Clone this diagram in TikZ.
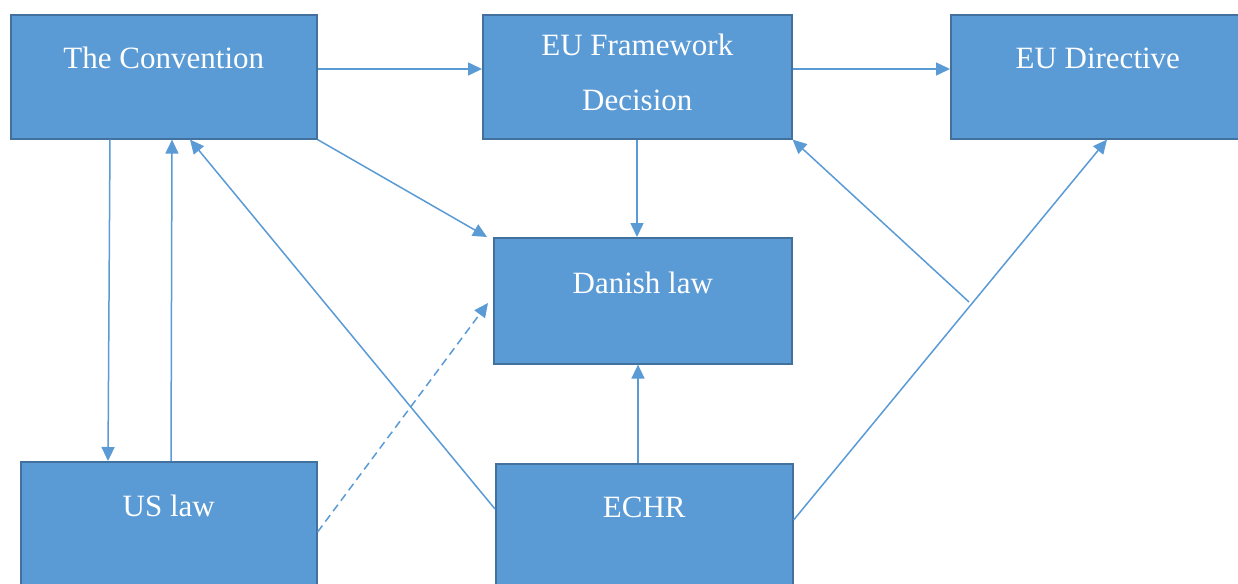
\documentclass[tikz,border=0pt]{standalone}
\usepackage{fontspec}
\setmainfont{Liberation Serif}
\usetikzlibrary{arrows.meta,calc}
\definecolor{boxfill}{HTML}{5B9BD5}
\definecolor{boxline}{HTML}{41719C}
\definecolor{conn}{HTML}{5B9BD5}
\tikzset{
  box/.style={draw=boxline, fill=boxfill, line width=1.6pt, rectangle, anchor=north west,
    inner sep=0pt, text=white, font=\fontsize{31}{31}\selectfont, text height=#1},
  box/.default=54pt,
  link/.style={draw=conn, line width=1.5pt, -{Triangle[length=14pt,width=13pt]}},
}
\begin{document}
\begin{tikzpicture}[x=1pt,y=-1pt]
\fill[white] (0,0) rectangle (1238,583);
\clip (0,0) rectangle (1238,583);
\node[box=54pt, text depth=70pt, minimum width=306pt] (conv) at (10,14) {The Convention};
\node[box=41pt, text depth=83pt, minimum width=309pt] (fd) at (482,14)
  {\vtop{\baselineskip=55pt \hbox{\makebox[0pt]{EU Framework}}\hbox{\makebox[0pt]{Decision}}}};
\node[box=54pt, text depth=70pt, minimum width=310pt] (dir) at (950,14) {\makebox[294pt]{EU Directive\hspace{16pt}}};
\node[box=56pt, text depth=70pt, minimum width=298pt] (dan) at (493,237) {Danish law};
\node[box=55pt, text depth=90pt, minimum width=296pt] (us) at (20,461) {US law};
\node[box=54pt, text depth=90pt, minimum width=297pt] (echr) at (495,463) {ECHR};
\coordinate (j) at (969,302);
\draw[link] ($(conv.north east)+(0,55)$) -- ($(fd.north west)+(0,55)$);
\draw[link] ($(fd.north east)+(0,55)$) -- ($(dir.north west)+(0,55)$);
\draw[link] (conv.south east) -- ($(dan.north west)+(-6,0)$);
\draw[link] ($(fd.south west)+(155,0)$) -- ($(dan.north west)+(144,0)$);
\draw[link] ($(conv.south west)+(100,0)$) -- ($(us.north west)+(88,0)$);
\draw[link] ($(us.north west)+(151,0)$) -- ($(conv.south west)+(162,0)$);
\draw[link] ($(echr.north west)+(0,46)$) -- ($(conv.south west)+(180,0)$);
\draw[link, dash pattern=on 8pt off 5pt] ($(us.north east)+(0,71)$) -- ($(dan.north west)+(-5,66)$);
\draw[link] ($(echr.north west)+(143,0)$) -- ($(dan.south west)+(145,0)$);
\draw[link] ($(echr.north east)+(0,57)$) -- ($(dir.south west)+(157,0)$);
\draw[link] (j) -- (fd.south east);
\end{tikzpicture}
\end{document}
